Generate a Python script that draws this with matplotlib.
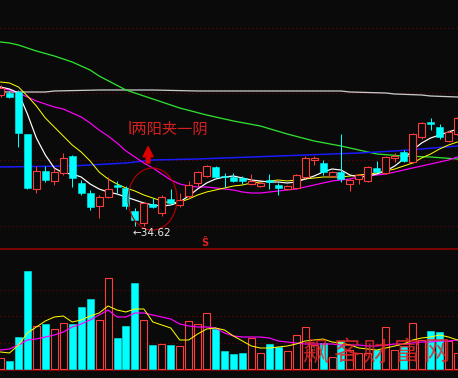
import matplotlib
matplotlib.use('Agg')
import matplotlib.pyplot as plt
from matplotlib.patches import Rectangle, Ellipse

plt.rcParams['font.family'] = ['Noto Sans CJK SC', 'DejaVu Sans']

BG = '#0a0a0a'
UP = '#ff3c3c'
DN = '#00ffff'
GRIDC = '#7a0000'
PANELC = '#a00000'
PX = 0.72  # one pixel in points at dpi 100

# ---------------- data ----------------
opens = [47.77, 47.97, 48.07, 43.87, 38.37, 40.17, 39.17, 39.97, 41.67, 38.97,
         37.97, 36.67, 37.57, 38.77, 38.47, 36.17, 34.97, 36.87, 35.97, 37.37,
         36.77, 37.67, 38.97, 39.67, 40.57, 39.67, 39.57, 39.47, 38.87, 38.67,
         39.22, 38.77, 38.37, 38.47, 39.57, 41.27, 40.97, 39.67, 40.07, 38.87,
         39.37, 39.17, 40.47, 39.97, 41.47, 42.07, 41.07, 43.57, 45.02, 44.57,
         43.17, 43.87]
closes = [48.47, 47.57, 43.97, 38.47, 40.17, 39.27, 40.07, 41.47, 39.47, 37.97,
          36.57, 37.57, 38.37, 38.57, 36.67, 35.27, 36.97, 36.57, 37.57, 36.97,
          37.27, 38.77, 40.07, 40.67, 39.57, 39.52, 39.17, 39.17, 39.17, 38.97,
          39.07, 38.42, 38.67, 39.77, 41.47, 41.42, 40.07, 40.07, 39.37, 39.27,
          39.77, 40.57, 40.12, 41.57, 41.67, 41.17, 43.87, 44.97, 44.87, 43.57,
          44.07, 45.47]
highs = [48.77, 48.17, 48.27, 43.87, 40.67, 40.67, 40.47, 41.97, 41.77, 39.27,
         38.27, 37.77, 39.57, 39.17, 38.67, 36.47, 37.07, 37.47, 37.77, 38.37,
         37.97, 39.17, 40.17, 40.77, 40.67, 39.97, 39.97, 39.67, 39.87, 39.07,
         39.87, 38.97, 38.77, 39.87, 41.67, 41.67, 41.27, 40.17, 43.87, 39.37,
         39.87, 40.67, 41.17, 41.67, 41.97, 42.27, 43.97, 45.07, 45.47, 44.87,
         44.27, 45.57]
lows = [47.57, 47.47, 42.57, 38.37, 37.97, 39.07, 38.77, 39.77, 38.57, 37.77,
        36.27, 35.47, 37.47, 37.97, 36.37, 34.62, 34.67, 36.47, 35.67, 36.87,
        36.57, 37.47, 38.57, 39.57, 39.47, 38.57, 39.07, 38.87, 38.77, 38.57,
        38.37, 37.77, 38.27, 38.37, 39.47, 40.77, 39.77, 39.57, 39.07, 38.17,
        38.87, 39.07, 40.07, 39.87, 41.07, 41.07, 40.97, 43.37, 44.27, 43.37,
        43.07, 43.77]
volumes = [1.13, 0.83, 3.2, 9.8, 4.3, 4.5, 4.0, 4.6, 4.5, 6.2,
           7.0, 4.9, 9.1, 3.1, 4.3, 8.6, 4.9, 2.4, 2.5, 2.4,
           2.3, 4.8, 4.5, 5.6, 4.0, 1.8, 1.5, 1.6, 3.1, 1.6,
           2.5, 2.2, 1.8, 3.4, 4.2, 2.4, 2.6, 1.2, 2.8, 1.9,
           1.6, 1.6, 1.9, 4.2, 1.9, 2.3, 4.6, 2.9, 3.8, 3.7,
           2.8, 1.6]

ma5 = [48.57, 48.37, 47.97, 45.87, 43.47, 41.77, 40.47, 39.97, 39.87, 39.57,
       38.87, 38.37, 38.07, 37.87, 37.57, 37.27, 36.97, 36.77, 36.67, 36.77,
       37.07, 37.67, 38.37, 38.97, 39.37, 39.57, 39.67, 39.47, 39.27, 39.17,
       39.07, 39.07, 38.97, 39.07, 39.37, 39.67, 40.07, 40.37, 40.27, 39.77,
       39.57, 39.67, 39.87, 40.17, 40.67, 41.37, 42.27, 42.97, 43.47, 43.77,
       44.07, 44.37]
ma10 = [49.07, 48.97, 48.57, 47.67, 46.67, 45.47, 44.57, 43.67, 42.77, 42.07,
        41.17, 40.07, 39.37, 38.87, 38.47, 38.17, 37.77, 37.47, 37.17, 36.97,
        37.07, 37.37, 37.77, 38.07, 38.27, 38.47, 38.67, 38.77, 38.97, 39.07,
        39.17, 39.27, 39.17, 39.27, 39.37, 39.47, 39.57, 39.57, 39.57, 39.67,
        39.77, 39.87, 39.97, 40.17, 40.37, 40.67, 40.97, 41.47, 41.87, 42.37,
        42.77, 43.07]
ma20 = [48.47, 48.27, 47.97, 47.57, 47.17, 46.87, 46.57, 46.37, 45.97, 45.57,
        44.97, 44.27, 43.67, 42.97, 42.17, 41.57, 40.97, 40.47, 39.87, 39.27,
        38.87, 38.67, 38.57, 38.57, 38.47, 38.37, 38.27, 38.07, 37.97, 37.97,
        38.07, 38.17, 38.27, 38.37, 38.57, 38.77, 38.97, 39.17, 39.27, 39.37,
        39.57, 39.67, 39.77, 39.87, 40.07, 40.27, 40.47, 40.67, 40.87, 41.07,
        41.27, 41.57]
ma_green_idx = [0, 1, 2, 4, 6, 8, 10, 11, 14, 17, 20, 23, 26, 29, 32, 35, 38, 40, 42, 45, 48, 51]
ma_green = [53.07, 52.97, 52.77, 52.17, 51.67, 51.07, 50.27, 49.67, 48.27, 47.37, 46.47,
            45.77, 45.17, 44.67, 43.87, 43.17, 42.67, 42.27, 41.87, 41.67, 41.57, 41.37]
ma_blue_idx = [0, 8, 14, 17, 22, 28, 34, 40, 44, 47, 51]
ma_blue = [40.57, 40.67, 40.97, 41.27, 41.37, 41.57, 41.77, 41.97, 42.17, 42.37, 42.67]
ma_gray_idx = [0, 5, 6, 11, 17, 22, 34, 38, 39, 43, 44, 47, 48, 51]
ma_gray = [48.07, 48.07, 48.17, 48.27, 48.27, 48.17, 48.17, 48.17, 48.07, 47.97,
           47.87, 47.77, 47.67, 47.57]

vol_ma5 = [1.7, 1.6, 2.4, 3.6, 4.2, 4.8, 5.2, 5.3, 4.7, 4.9,
           5.3, 5.6, 6.3, 5.9, 5.7, 6.0, 6.0, 4.7, 4.4, 4.1,
           2.9, 2.9, 3.5, 4.0, 4.1, 3.9, 3.3, 2.8, 2.3, 2.1,
           2.1, 2.2, 2.3, 2.5, 2.8, 2.9, 3.0, 2.7, 2.6, 2.4,
           2.1, 2.0, 1.9, 2.1, 2.3, 2.5, 2.9, 3.1, 3.2, 3.4,
           3.2, 2.9]
vol_ma10 = [1.9, 2.0, 2.4, 2.9, 3.0, 3.2, 3.4, 3.7, 4.2, 4.5,
            4.9, 5.4, 5.9, 5.2, 5.2, 5.6, 5.6, 5.4, 5.2, 5.0,
            4.5, 4.3, 4.2, 4.2, 4.1, 3.6, 3.3, 3.2, 3.2, 3.2,
            3.1, 2.8, 2.7, 2.6, 2.5, 2.5, 2.5, 2.5, 2.4, 2.4,
            2.4, 2.3, 2.3, 2.4, 2.5, 2.5, 2.6, 2.7, 2.7, 2.8,
            2.8, 2.9]

price_grid = [54.44, 47.94, 41.27, 34.67]
vol_grid = [7.9, 5.3, 2.6]
low_label = '←34.62'
pattern_label = 'l两阳夹一阴'
watermark = ['飙', '客', '财', '富', '网']

# ---------------- figure ----------------
W, H = 458, 378
fig = plt.figure(figsize=(W / 100, H / 100), dpi=100, facecolor=BG)
ax1 = fig.add_axes([0, 1 - 249 / H, 1, 249 / H])
ax2 = fig.add_axes([0, 1 - 370 / H, 1, 121 / H])
for ax in (ax1, ax2):
    ax.set_facecolor(BG)
    ax.set_xticks([])
    ax.set_yticks([])
    for s in ax.spines.values():
        s.set_visible(False)
    ax.set_xlim(-0.06, 51.06)
ax1.set_ylim(32.37, 57.27)
ax2.set_ylim(-0.1, 12.0)
for side in ('top', 'bottom'):
    ax2.spines[side].set_visible(True)
    ax2.spines[side].set_color(PANELC)
    ax2.spines[side].set_linewidth(1.5 * PX)

for g in price_grid:
    ax1.axhline(g, color=GRIDC, lw=PX, ls=(0, (1, 3)), zorder=1)
for g in vol_grid:
    ax2.axhline(g, color=GRIDC, lw=PX, ls=(0, (1, 3)), zorder=1)

# moving averages
idx = list(range(len(closes)))
ax1.plot(ma_gray_idx, ma_gray, color='#c8c8c8', lw=1.3 * PX, zorder=2)
ax1.plot(ma_green_idx, ma_green, color='#30e030', lw=1.3 * PX, zorder=2)
ax1.plot(ma_blue_idx, ma_blue, color='#1a1aff', lw=1.5 * PX, zorder=2)
ax1.plot(idx, ma20, color='#ff00ff', lw=1.2 * PX, zorder=2)
ax1.plot(idx, ma10, color='#ffff00', lw=1.0 * PX, zorder=2)
ax1.plot(idx, ma5, color='#ffffff', lw=1.2 * PX, zorder=2)

# candles
bw = 0.78
for i, (o, c, h, l) in enumerate(zip(opens, closes, highs, lows)):
    top, bot = max(o, c), min(o, c)
    if c >= o:
        col = UP
        ax1.plot([i, i], [top, h], color=col, lw=PX, zorder=3, solid_capstyle='butt')
        ax1.plot([i, i], [l, bot], color=col, lw=PX, zorder=3, solid_capstyle='butt')
        ax1.add_patch(Rectangle((i - bw / 2, bot), bw, max(top - bot, 0.05),
                                facecolor=BG, edgecolor=col, lw=1.1 * PX, zorder=4))
    else:
        col = DN
        ax1.plot([i, i], [l, h], color=col, lw=PX, zorder=3, solid_capstyle='butt')
        ax1.add_patch(Rectangle((i - bw / 2, bot), bw, max(top - bot, 0.1),
                                facecolor=col, edgecolor=col, lw=0.5 * PX, zorder=4))

# volume bars
for i, v in enumerate(volumes):
    if closes[i] >= opens[i]:
        ax2.add_patch(Rectangle((i - bw / 2, 0), bw, v, facecolor=BG,
                                edgecolor=UP, lw=1.1 * PX, zorder=3))
    else:
        ax2.add_patch(Rectangle((i - bw / 2, 0), bw, v, facecolor=DN,
                                edgecolor=DN, lw=0.5 * PX, zorder=3))
ax2.plot(idx, vol_ma10, color='#ff00ff', lw=1.2 * PX, zorder=4)
ax2.plot(idx, vol_ma5, color='#ffff00', lw=1.0 * PX, zorder=4)

# annotations
ax1.add_patch(Ellipse((16.96, 37.37), 5.47, 6.2, fill=False, edgecolor='#b00000',
                      lw=1.2 * PX, zorder=5))
ax1.annotate('', xy=(16.47, 42.6), xytext=(16.47, 40.97),
             arrowprops=dict(arrowstyle='simple,head_width=0.9,head_length=0.9,tail_width=0.35',
                             color='#e00000', mutation_scale=8, shrinkA=0, shrinkB=0),
             zorder=6)
ax1.text(14.23, 44.37, pattern_label, color='#d42020', fontsize=11, va='center',
         ha='left', zorder=6)
ax1.text(14.78, 33.97, low_label, color='#e8e8e8', fontsize=7.5, va='center',
         ha='left', family=['DejaVu Sans'], zorder=6)
ax1.text(22.82, 32.97, 'Ŝ', color='#e02020', fontsize=7, va='center', ha='center',
         fontweight='bold', family=['DejaVu Sans'], zorder=6)

wm_x = [35.1, 38.6, 41.8, 45.4, 48.7]
for x, ch in zip(wm_x, watermark):
    ax2.text(x, 1.6, ch, fontsize=19, color='#e02828', ha='center', va='center',
             fontweight='light', alpha=0.85, zorder=6)

fig.savefig('out.png', dpi=100, facecolor=BG)
